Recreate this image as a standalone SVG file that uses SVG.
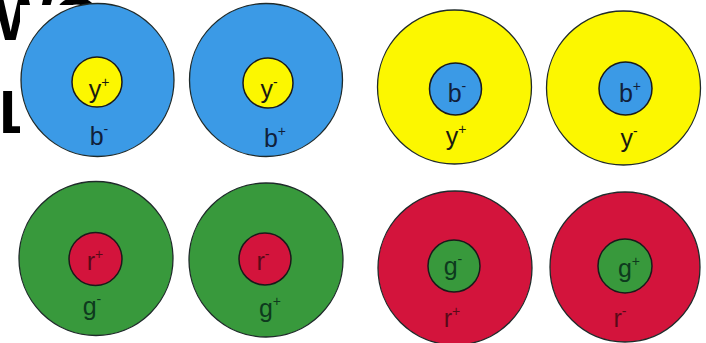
<svg xmlns="http://www.w3.org/2000/svg" width="706" height="343" viewBox="0 0 706 343">
<style>
.o{stroke:#1f2a2a;stroke-width:1.3}
.i{stroke:#1a1a1a;stroke-width:1.5}
.b{fill:#3b9ae6}.y{fill:#fcf700}.g{fill:#38993c}.r{fill:#d3143c}
text{font-family:"Liberation Sans",Arial,sans-serif;font-size:25px;text-anchor:middle}
.tb{fill:#10203a}.ty{fill:#1a1a10}.tg{fill:#0e3a1e}.tr{fill:#5a0a18}
.s{font-size:14px}
.bg{font-family:"Liberation Sans",Arial,sans-serif;font-weight:bold;font-size:62px;fill:#000;text-anchor:start}
</style>
<rect width="706" height="343" fill="#ffffff"/>
<text class="bg" x="-6" y="40">WO</text>
<text class="bg" x="-1" y="133">L</text>
<rect x="20" y="5" width="686" height="338" fill="#ffffff"/>
<g id="n1"><circle class="o b" cx="97.5" cy="80" r="76.5"/><circle class="i y" cx="97" cy="82" r="25"/>
<text class="ty" x="99" y="98">y<tspan class="s" dy="-11">+</tspan></text>
<text class="tb" x="99" y="145">b<tspan class="s" dy="-11">-</tspan></text></g>
<g id="n2"><circle class="o b" cx="266" cy="80" r="76.5"/><circle class="i y" cx="268" cy="83" r="25"/>
<text class="ty" x="269" y="98">y<tspan class="s" dy="-11">-</tspan></text>
<text class="tb" x="275" y="147">b<tspan class="s" dy="-11">+</tspan></text></g>
<g id="n3"><circle class="o y" cx="454.5" cy="87" r="77"/><circle class="i b" cx="455.5" cy="89" r="26"/>
<text class="tb" x="457" y="102">b<tspan class="s" dy="-11">-</tspan></text>
<text class="ty" x="456" y="145">y<tspan class="s" dy="-11">+</tspan></text></g>
<g id="n4"><circle class="o y" cx="623.5" cy="88" r="77"/><circle class="i b" cx="625.5" cy="88.5" r="26.5"/>
<text class="tb" x="630" y="102">b<tspan class="s" dy="-11">+</tspan></text>
<text class="ty" x="629" y="147">y<tspan class="s" dy="-11">-</tspan></text></g>
<g id="n5"><circle class="o g" cx="96" cy="258.5" r="77"/><circle class="i r" cx="95.5" cy="259" r="26.5"/>
<text class="tr" x="95" y="270">r<tspan class="s" dy="-11">+</tspan></text>
<text class="tg" x="92" y="315">g<tspan class="s" dy="-11">-</tspan></text></g>
<g id="n6"><circle class="o g" cx="266" cy="260" r="77"/><circle class="i r" cx="265" cy="259" r="26"/>
<text class="tr" x="263" y="270">r<tspan class="s" dy="-11">-</tspan></text>
<text class="tg" x="270" y="317">g<tspan class="s" dy="-11">+</tspan></text></g>
<g id="n7"><circle class="o r" cx="455" cy="268" r="77"/><circle class="i g" cx="454" cy="266" r="26"/>
<text class="tg" x="453" y="275">g<tspan class="s" dy="-11">-</tspan></text>
<text class="tr" x="452" y="327">r<tspan class="s" dy="-11">+</tspan></text></g>
<g id="n8"><circle class="o r" cx="625" cy="267" r="75"/><circle class="i g" cx="625" cy="266" r="27"/>
<text class="tg" x="629" y="277">g<tspan class="s" dy="-11">+</tspan></text>
<text class="tr" x="620" y="327">r<tspan class="s" dy="-11">-</tspan></text></g>
<g id="connectors"/>
</svg>
